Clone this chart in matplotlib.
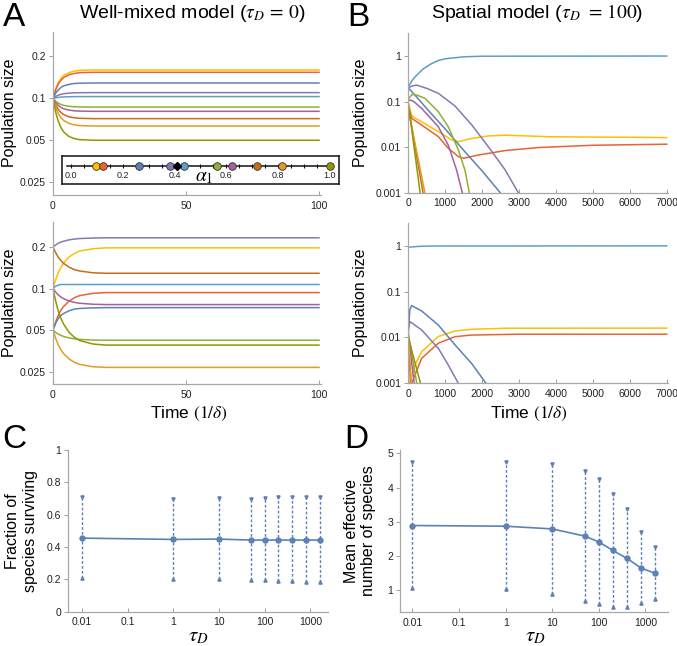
import numpy as np
import matplotlib
matplotlib.use('Agg')
import matplotlib.pyplot as plt
from matplotlib.ticker import NullLocator

plt.rcParams['font.family'] = ['Liberation Sans', 'DejaVu Sans']
plt.rcParams['mathtext.fontset'] = 'stix'

# Mathematica default palette, one colour per species
COL = {'yellow': '#FFBF00', 'red': '#EB6235', 'blue': '#5E81B5', 'purple': '#8778B3',
       'lightblue': '#5D9EC7', 'green': '#8FB032', 'magenta': '#A5609D',
       'brown': '#C56E1A', 'orange': '#E19C24', 'olive': '#929600'}
SPECIES = ['yellow', 'red', 'blue', 'purple', 'lightblue', 'green', 'magenta', 'brown', 'orange', 'olive']
ALPHA1 = [0.096, 0.123, 0.265, 0.383, 0.438, 0.565, 0.621, 0.717, 0.814, 1.0]
ALPHA_FOCAL = 0.409

# --- panel A, top (well-mixed, equal start) ---
tA_top = [0, 1, 2, 3, 4, 6, 8, 10, 15, 100]
A_top = {
    'yellow':    [0.1, 0.117, 0.130, 0.139, 0.146, 0.153, 0.157, 0.159, 0.160, 0.160],
    'red':       [0.1, 0.115, 0.127, 0.135, 0.141, 0.148, 0.151, 0.153, 0.154, 0.154],
    'blue':      [0.1, 0.109, 0.115, 0.120, 0.123, 0.126, 0.128, 0.1285, 0.129, 0.129],
    'purple':    [0.1, 0.1032, 0.1054, 0.1069, 0.1079, 0.1091, 0.1096, 0.1098, 0.110, 0.110],
    'lightblue': [0.1, 0.101, 0.1016, 0.1021, 0.1024, 0.1027, 0.1029, 0.1030, 0.103, 0.103],
    'green':     [0.1, 0.0954, 0.0924, 0.0904, 0.0891, 0.0877, 0.0871, 0.0868, 0.0866, 0.0866],
    'magenta':   [0.1, 0.0932, 0.0889, 0.0861, 0.0842, 0.0823, 0.0814, 0.0810, 0.0807, 0.0807],
    'brown':     [0.1, 0.0895, 0.0832, 0.0791, 0.0765, 0.0737, 0.0725, 0.0719, 0.0715, 0.0715],
    'orange':    [0.1, 0.086, 0.0778, 0.0726, 0.0694, 0.066, 0.0645, 0.0637, 0.0633, 0.0633],
    'olive':     [0.1, 0.0796, 0.0683, 0.0616, 0.0574, 0.0532, 0.0514, 0.0505, 0.050, 0.050],
}
# --- panel A, bottom (well-mixed, unequal start) ---
tA_bot = [0, 1, 2, 3, 4, 6, 8, 10, 15, 20, 100]
A_bot = {
    'purple':    [0.2, 0.207, 0.213, 0.217, 0.220, 0.225, 0.228, 0.230, 0.232, 0.233, 0.233],
    'yellow':    [0.1, 0.116, 0.131, 0.143, 0.153, 0.169, 0.179, 0.187, 0.194, 0.197, 0.197],
    'brown':     [0.2, 0.182, 0.168, 0.159, 0.152, 0.143, 0.137, 0.134, 0.130, 0.129, 0.129],
    'lightblue': [0.1, 0.104, 0.106, 0.107, 0.107, 0.107, 0.107, 0.107, 0.107, 0.107, 0.107],
    'red':       [0.05, 0.0574, 0.0642, 0.0697, 0.0742, 0.081, 0.0857, 0.0889, 0.0923, 0.0935, 0.0935],
    'magenta':   [0.1, 0.0943, 0.0899, 0.0868, 0.0845, 0.0814, 0.0795, 0.0783, 0.0770, 0.0766, 0.0766],
    'blue':      [0.05, 0.056, 0.061, 0.064, 0.066, 0.069, 0.0710, 0.0718, 0.0725, 0.0728, 0.0728],
    'green':     [0.05, 0.0482, 0.0468, 0.0458, 0.0450, 0.0440, 0.0433, 0.0429, 0.0424, 0.0423, 0.0423],
    'olive':     [0.1, 0.0813, 0.0686, 0.0607, 0.0553, 0.0484, 0.0445, 0.0421, 0.0397, 0.039, 0.039],
    'orange':    [0.05, 0.0436, 0.0390, 0.0360, 0.0338, 0.0310, 0.0293, 0.0283, 0.0272, 0.0269, 0.0269],
}
# --- panel B, top (spatial) : (times, values) per species ---
B_top = {
    'lightblue': ([0, 100, 200, 400, 600, 800, 1000, 1500, 2000, 7000],
                  [0.21, 0.29, 0.36, 0.52, 0.66, 0.79, 0.87, 0.96, 0.99, 1.0]),
    'purple':    ([0, 100, 226, 500, 813, 1265, 1716, 2168, 2620, 2980],
                  [0.2, 0.22, 0.23, 0.195, 0.152, 0.080, 0.031, 0.0102, 0.0032, 0.001]),
    'blue':      ([0, 250, 500, 1000, 1500, 2000, 2490],
                  [0.2, 0.12, 0.07, 0.025, 0.0085, 0.003, 0.001]),
    'green':     ([0, 108, 250, 452, 813, 1084, 1355, 1536, 1653],
                  [0.115, 0.144, 0.137, 0.118, 0.06, 0.028, 0.0087, 0.0031, 0.001]),
    'magenta':   ([0, 60, 150, 361, 813, 1084, 1310, 1463],
                  [0.105, 0.108, 0.1, 0.071, 0.028, 0.011, 0.0031, 0.001]),
    'yellow':    ([0, 90, 150, 361, 813, 1175, 1355, 1716, 2168, 2620, 3840, 7000],
                  [0.095, 0.05, 0.045, 0.036, 0.022, 0.0144, 0.0132, 0.0155, 0.0176, 0.0183, 0.0169, 0.0162]),
    'red':       ([0, 90, 361, 813, 1084, 1355, 1500, 1897, 2620, 3523, 5000, 7000],
                  [0.08, 0.043, 0.0306, 0.017, 0.0094, 0.0062, 0.0057, 0.0067, 0.0084, 0.0098, 0.0110, 0.0116]),
    'olive':     ([0, 150, 320], [0.09, 0.011, 0.001]),
    'brown':     ([0, 200, 400], [0.075, 0.0085, 0.001]),
    'orange':    ([0, 220, 450], [0.07, 0.0085, 0.001]),
}
# --- panel B, bottom ---
B_bot = {
    'lightblue': ([0, 100, 300, 600, 7000], [0.93, 0.95, 0.975, 0.99, 1.0]),
    'blue':      ([0, 40, 90, 361, 813, 1265, 1716, 2105],
                  [0.012, 0.04, 0.0497, 0.038, 0.0187, 0.0069, 0.0027, 0.001]),
    'purple':    ([0, 45, 361, 813, 1084, 1355], [0.015, 0.0222, 0.0146, 0.0058, 0.0025, 0.001]),
    'yellow':    ([30, 180, 361, 813, 1265, 1716, 2620, 7000],
                  [0.001, 0.0025, 0.0049, 0.0105, 0.0139, 0.0151, 0.0159, 0.016]),
    'red':       ([90, 361, 813, 1265, 1716, 3000, 7000],
                  [0.001, 0.0035, 0.0075, 0.0104, 0.0113, 0.0118, 0.0118]),
    'green':     ([0, 230], [0.012, 0.001]),
    'magenta':   ([0, 160], [0.011, 0.001]),
    'olive':     ([0, 330], [0.01, 0.001]),
    'orange':    ([0, 80], [0.013, 0.001]),
    'brown':     ([0, 60], [0.009, 0.001]),
}
# --- panels C, D ---
tau = [0.01, 1, 10, 50, 100, 200, 400, 800, 1600]
C_mean = [0.455, 0.447, 0.449, 0.443, 0.443, 0.443, 0.443, 0.443, 0.443]
C_hi = [0.707, 0.700, 0.702, 0.700, 0.702, 0.708, 0.708, 0.707, 0.707]
C_lo = [0.208, 0.204, 0.202, 0.193, 0.197, 0.191, 0.187, 0.185, 0.185]
D_mean = [2.89, 2.87, 2.79, 2.58, 2.41, 2.16, 1.93, 1.65, 1.49]
D_hi = [4.75, 4.76, 4.68, 4.48, 4.25, 3.82, 3.37, 2.69, 2.25]
D_lo = [1.05, 1.02, 0.90, 0.68, 0.58, 0.51, 0.51, 0.63, 0.74]

W, H = 677, 646
fig = plt.figure(figsize=(W / 100, H / 100), dpi=100)

def ax_px(l, t, r, b):
    return fig.add_axes([l / W, 1 - b / H, (r - l) / W, (b - t) / H])

def ftext(x, y, s, **kw):
    fig.text(x / W, 1 - y / H, s, **kw)

def style(ax):
    for s in ('top', 'right'):
        ax.spines[s].set_visible(False)
    for s in ('left', 'bottom'):
        ax.spines[s].set_color('#a8a8a8'); ax.spines[s].set_linewidth(0.9)
    ax.tick_params(axis='x', direction='in', length=3, width=0.7, color='#a0a0a0', labelsize=7.5, labelcolor='#222', pad=4)
    ax.tick_params(axis='y', direction='out', length=3, width=0.7, color='#a0a0a0', labelsize=7.5, labelcolor='#222', pad=2)
    ax.patch.set_alpha(0)

def pop_axes(ax, yt, yl, ylim, xt, xlim):
    ax.set_yscale('log')
    ax.set_ylim(*ylim); ax.set_xlim(*xlim)
    ax.set_yticks(yt); ax.set_yticklabels(yl)
    ax.yaxis.set_minor_locator(NullLocator())
    ax.set_xticks(xt)
    style(ax)

# A top
ax = ax_px(53, 32, 321, 195)
for sp in SPECIES:
    ax.plot(tA_top, A_top[sp], color=COL[sp], lw=1.1)
pop_axes(ax, [0.025, 0.05, 0.1, 0.2], ['0.025', '0.05', '0.1', '0.2'], (0.0202, 0.3), [0, 50, 100], (0, 100.75))

# inset with alpha_1 number line
ins = ax_px(62, 156, 339, 184)
ins.set_xlim(-0.034, 1.035); ins.set_ylim(0, 1)
ins.set_xticks([]); ins.set_yticks([])
for s in ins.spines.values():
    s.set_color('#222'); s.set_linewidth(1.2)
ins.plot([-0.015, 1.01], [0.65, 0.65], color='#111', lw=1.1, zorder=1)
ticks_minor = np.arange(0, 1.001, 0.05)
ins.plot(ticks_minor, np.full(len(ticks_minor), 0.65), ls='none', marker='|', ms=3, color='#111', mew=0.8)
for v in np.arange(0, 1.001, 0.2):
    ins.text(v, 0.30, f'{v:.1f}', ha='center', va='center', fontsize=6.5, color='#222')
ins.text(0.515, 0.24, r'$\alpha_1$', ha='center', va='center', fontsize=14)
for a, sp in zip(ALPHA1, SPECIES):
    ins.plot(a, 0.65, 'o', ms=5.5, color=COL[sp], mec='#333', mew=0.6, zorder=3)
ins.plot(ALPHA_FOCAL, 0.65, 'D', ms=4.5, color='black', zorder=4)

# A bottom
ax = ax_px(53, 222, 321, 384)
for sp in SPECIES:
    ax.plot(tA_bot, A_bot[sp], color=COL[sp], lw=1.1)
pop_axes(ax, [0.025, 0.05, 0.1, 0.2], ['0.025', '0.05', '0.1', '0.2'], (0.0204, 0.303), [0, 50, 100], (0, 100.75))

# B top / bottom
btk = [0.001, 0.01, 0.1, 1]; btl = ['0.001', '0.01', '0.1', '1']
for data, (t0, b0) in ((B_top, (33, 192.7)), (B_bot, (222.7, 383.3))):
    ax = ax_px(408.3, t0, 668, b0)
    for sp in SPECIES:
        tt, yy = data[sp]
        ax.plot(tt, yy, color=COL[sp], lw=1.1)
    pop_axes(ax, btk, btl, (0.001, 3.2), range(0, 7001, 1000), (0, 7035))

# C and D
BLUE = '#5E81B5'
def err_panel(ax, mean, lo, hi):
    ax.set_xscale('log')
    ax.vlines(tau, lo, hi, colors=BLUE, linestyles=(0, (2.0, 1.5)), lw=1.0)
    ax.plot(tau, hi, 'v', ms=2.3, color=BLUE)
    ax.plot(tau, lo, '^', ms=2.3, color=BLUE)
    ax.plot(tau, mean, '-o', color=BLUE, lw=1.2, ms=3.6)
    ax.set_xticks([0.01, 0.1, 1, 10, 100, 1000])
    ax.set_xticklabels(['0.01', '0.1', '1', '10', '100', '1000'])
    ax.xaxis.set_minor_locator(NullLocator())
    style(ax)

ax = ax_px(68.3, 450, 328, 611.7)
err_panel(ax, C_mean, C_lo, C_hi)
ax.set_xlim(0.005, 2430); ax.set_ylim(0, 1)
ax.set_yticks([0, 0.2, 0.4, 0.6, 0.8, 1]); ax.set_yticklabels(['0', '0.2', '0.4', '0.6', '0.8', '1'])

ax = ax_px(400, 450, 668, 612.3)
err_panel(ax, D_mean, D_lo, D_hi)
ax.set_xlim(0.0054, 3055); ax.set_ylim(0.35, 5.1)
ax.set_yticks([1, 2, 3, 4, 5]); ax.set_yticklabels(['1', '2', '3', '4', '5'])

# labels
for x, y, s in ((14, 18, 'A'), (358, 18, 'B'), (14, 440, 'C'), (356, 440, 'D')):
    ftext(x, y, s, fontsize=24, ha='center', va='center')
ftext(192, 13, r'Well-mixed model ($\tau_D\,=\,0$)', fontsize=14, ha='center', va='center')
ftext(537, 13, r'Spatial model ($\tau_D$ $=\,100$)', fontsize=14, ha='center', va='center')
for x, y in ((10, 113), (10, 303), (361, 113), (361, 303)):
    ftext(x, y, 'Population size', rotation=90, fontsize=11.5, ha='center', va='center')
for x in (189, 529):
    ftext(x, 414, r'Time $(1/\delta)$', fontsize=12.5, ha='center', va='center')
ftext(22, 531, 'Fraction of\nspecies surviving', rotation=90, fontsize=11.5, ha='center', va='center', multialignment='center', linespacing=1.25)
ftext(360, 531, 'Mean effective\nnumber of species', rotation=90, fontsize=11.5, ha='center', va='center', multialignment='center', linespacing=1.25)
for x in (198, 535):
    ftext(x, 637, r'$\tau_D$', fontsize=15, ha='center', va='center')

fig.savefig('out.png', dpi=100)
